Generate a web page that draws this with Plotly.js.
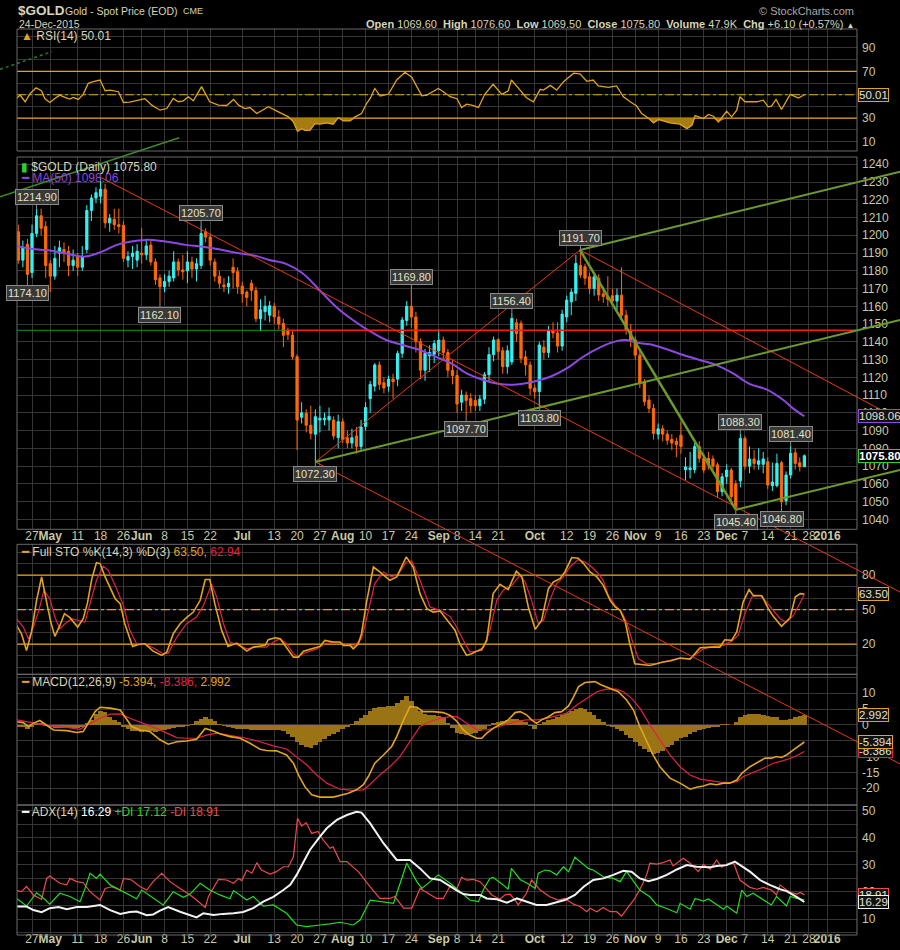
<!DOCTYPE html>
<html><head><meta charset="utf-8">
<script src="https://cdn.plot.ly/plotly-3.0.1.min.js"></script>
<style>html,body{margin:0;padding:0;background:#000;}#chart{width:900px;height:950px;}</style>
</head><body><div id="chart"></div>
<script>
// ---------------- DATA ----------------
const firstDay = '2015-04-22', calEnd = '2016-01-08';
const holidays = ['2015-05-25','2015-07-03','2015-09-07','2015-11-26','2015-12-25','2016-01-01'];
const tickDates = ['2015-04-27','2015-05-01','2015-05-11','2015-05-18','2015-05-26','2015-06-01','2015-06-08','2015-06-15','2015-06-22','2015-07-01','2015-07-13','2015-07-20','2015-07-27','2015-08-03','2015-08-10','2015-08-17','2015-08-24','2015-09-01','2015-09-08','2015-09-14','2015-09-21','2015-10-01','2015-10-12','2015-10-19','2015-10-26','2015-11-02','2015-11-09','2015-11-16','2015-11-23','2015-12-01','2015-12-07','2015-12-14','2015-12-21','2015-12-28','2016-01-04'];
const tickLabels = ['27','May','11','18','26','Jun','8','15','22','Jul','13','20','27','Aug','10','17','24','Sep','8','14','21','Oct','12','19','26','Nov','9','16','23','Dec','7','14','21','28','2016'];

const openP = [1202,1186,1195,1179,1201,1211,1205,1184,1177,1190, 1192,1191,1183,1188,1182,1192,1214,1221,1222,1226, 1207,1209,1206,1205.6,1186,1188,1186,1190,1189,1194.5, 1185,1176,1171,1174,1176,1185,1180.5,1180,1185,1181, 1183,1202,1199,1185,1177,1172,1171,1182,1179.5,1171.4, 1168,1173,1169,1153,1157,1155,1160,1154,1150.3,1146.6, 1143.8,1131.6,1097.5,1099.7,1093,1088,1096,1096,1096,1096, 1086,1095,1086,1083,1087,1081,1092.4,1108,1115,1127, 1117,1115,1119,1119,1133.5,1152,1160,1154,1140,1124, 1132,1133,1135,1141,1134,1124,1121,1106,1110,1108, 1107,1104,1107.7,1121.5,1132.8,1141.2,1135,1126,1128.7,1150.7, 1150.4,1131.5,1127,1114,1112,1137,1134,1146.3,1145,1137.6, 1154,1162.5,1167.3,1183,1182.3,1176.6,1170,1175.7,1167,1165.5, 1166,1163,1166.3,1155,1146.6,1141,1132.5,1117.5,1107.2,1102.5, 1088,1091,1088,1085,1084,1087.4,1068,1068,1068,1081, 1074.4,1074.4,1074,1070.7,1055.6,1064,1067.8,1060,1061.7,1085.6, 1070,1074,1071,1071,1072.4,1059,1059,1071.9,1050.5,1065, 1077.5,1071.9,1069.6];
const highP = [1206,1197,1198,1206,1214.9,1215,1208,1186,1194,1197, 1196,1194,1192,1190,1194,1217,1223,1227,1232.5,1229, 1212,1215,1215,1208,1191,1194,1195,1204,1198,1197, 1187,1178,1178,1180,1191,1187,1189,1191,1188,1187, 1205.7,1204,1201,1187,1180,1176,1177,1187,1182,1174, 1169,1175,1171,1164,1166,1163,1162,1158,1153,1148, 1146,1133,1106,1102,1104,1102,1104,1100,1103,1098, 1099,1097,1090,1091,1092,1096,1106,1118,1128,1129, 1120,1121,1122,1135,1154,1163,1169.8,1157,1142,1136, 1138,1141,1147,1143,1136,1130,1124,1113,1112,1111, 1110,1110,1123,1137,1143,1142,1137,1138,1156.4,1153, 1152,1135,1129,1116,1140,1141,1149,1151,1151,1158, 1166,1170,1189,1191.7,1184,1179,1178,1178,1171,1177, 1170,1170,1182,1158,1150,1143,1135,1119,1110,1105, 1094,1093,1090,1088,1086,1095,1075,1078,1083,1084, 1077,1078,1076,1072,1066,1071,1069,1062,1088.3,1087, 1081,1079,1080,1078,1075,1072,1077,1073,1067,1081.4, 1080,1075,1076.6];
const lowP = [1184,1182,1174.1,1176,1199,1200,1176,1168,1175,1182, 1185,1177,1180,1177,1180,1190,1208,1218,1218,1204, 1202,1203,1201,1185,1182,1181,1182,1184,1186,1183, 1172,1162.1,1168,1171,1174,1177,1175,1173,1176,1174, 1181,1196,1183,1174,1170,1168,1167,1170,1167,1162, 1160,1163,1151,1146,1152,1151,1150,1147,1137,1141, 1130,1079,1094,1089,1085,1072.3,1089,1093,1090,1085, 1080,1083,1080,1080,1077,1079,1090,1100,1112,1113, 1111,1112,1108,1115,1131,1149,1148,1134,1119,1118, 1123,1128,1132,1130,1120,1116,1100,1101,1097.7,1100, 1101,1101,1105,1118,1129,1130,1122,1122,1127,1140, 1128,1121,1110,1108,1103.8,1130,1131,1142,1134,1135, 1151,1155,1163,1176,1172,1167,1166,1163,1162,1160, 1160,1158,1153,1144,1137,1130,1114,1104,1100,1085, 1085,1084,1082,1079,1075,1077,1062,1063,1066,1072, 1066,1068,1068,1052,1053,1060,1050,1045.4,1058,1068, 1066,1068,1068,1066,1057,1056,1058,1046.8,1048,1063, 1068,1067,1069.5];
const closeP = [1186,1193,1178,1201,1211,1204,1183,1177,1187,1193, 1190,1183,1186,1182,1188,1214,1221,1224,1226,1207, 1209.5,1206,1205,1187,1188,1190,1191,1189,1194,1185, 1175,1171,1174,1177,1185,1180.5,1179.5,1185,1181,1184, 1201,1199,1186,1177,1173,1171,1173,1179,1171,1167, 1165,1169,1153,1158,1160,1160.3,1154,1150,1143.7,1144, 1131.6,1095.9,1100,1093,1088.4,1097.8,1097,1097,1098,1087, 1095,1085,1083,1086,1081,1092,1103,1116,1127,1116, 1114,1119,1117.5,1133.5,1152.3,1160,1154,1140,1124,1133.5, 1134,1139,1141,1134,1124,1121,1105,1110,1107,1104, 1104,1107.7,1121.5,1132.8,1141,1134.6,1126,1135,1153.2,1144.6, 1130.7,1127,1113.8,1111.9,1138.2,1134,1146.3,1145,1137.6,1155.6, 1163.5,1168,1184.1,1177.6,1175.8,1170,1176.6,1166.4,1165.5,1164, 1163,1166.3,1155,1146.6,1141,1132.5,1116.5,1106.3,1102.5,1088.4, 1091,1088,1084.5,1083,1082,1081,1069.5,1069,1081,1074.4, 1067.8,1070.7,1070,1055.6,1064,1067.8,1052.8,1047,1085.6,1070, 1074,1071.5,1073,1074,1059.3,1061,1071.5,1049.9,1065,1077.2, 1071.5,1069.7,1075.8];
const lastVolume = '47.9K';

const maX = [-0.3,3.6,7.3,10.9,14.6,18.3,21.9,27.8,31.4,36.6,40.3,43.9,47.6,52,54.9,58.6,62.2,65.9,69.5,73.2,76.8,80.5,84.1,87.8,91.4,95,98.1,101.8,105.4,109.1,112.7,116.4,120,123.6,127.3,130.9,133.1,135.3,138.2,141.9,145.5,149.1,152.8,156.4,160.1,163.7,167.4,169.5,172];
const maY = [1194,1192.1,1191.3,1189.5,1188,1190.8,1194.9,1197.4,1196.8,1194.6,1193.6,1192.1,1190.2,1188.4,1186.1,1183.9,1178.6,1169.2,1159.8,1152.3,1146.2,1141,1138.2,1135.4,1131.5,1127.5,1122.2,1118.5,1116.2,1116,1117.5,1120.3,1125,1131.6,1136.9,1140.4,1141,1139.5,1138.6,1135.8,1132.6,1129.8,1126.9,1122.2,1116.2,1113.2,1107.2,1102.5,1098.06];

const rsiX = [-0.4,0.4,1.5,2.6,3.9,5.1,5.8,6.9,8,9.1,10.2,11.3,12,13.1,14.2,15.3,16.4,17.9,19,20.1,21.9,23,24.4,26.3,27.7,29.2,31,32.5,33.9,35,36.1,37.2,38.3,40.1,41.9,43.8,45.6,47.1,48.2,49.6,50.7,52.2,53.6,54.7,56.9,59.1,60.2,61.1,62,62.7,63.8,64.9,66,67.5,68.9,70,71.1,72.6,73.7,75.1,76.2,77,78,79.2,81,82.8,84.6,86.1,87.2,88.3,89.4,90.8,91.9,93,94.5,96,97,98.1,99.2,100.7,102.1,103.9,105.8,107.2,107.9,109.8,111.2,112.7,114.2,114.9,116.4,117.8,119.3,121.5,122.9,124.4,125.8,126.9,129.1,130.9,132.4,133.9,135.3,136.4,137.9,139,140.1,142.6,144.8,146.3,147.4,148.1,149.9,151,152.1,153.2,155,156.1,157.2,157.9,159,161.6,163,164.1,164.8,165.8,167,168.9,170.7,172];
const rsiY = [46.8,49.7,44,51.1,56,53.2,46.8,43.4,46.8,49.7,47.7,46.3,47.7,46,50.3,59.7,61.2,62.6,53.4,54,52.6,43.4,43.7,45.4,46.6,41.1,36.8,38.2,46.8,44,44.8,48.3,44.8,56.9,44,41.1,40.8,46,41.1,38.2,39.1,33.9,36.8,39.7,35.4,31.1,26.8,18.7,21,19.6,19.6,25.3,24.8,25.9,24.8,30.5,27.6,27.6,31.1,33.9,42.5,46.8,55.4,48.9,50.6,62.6,69.2,64.9,56.9,49.1,49.7,52.6,55.4,52.6,48.3,46.6,39.1,42,41.1,39.1,50.6,58.9,50.3,53.4,62.6,54,47.4,44,54.6,54,58,54,61.2,68.4,67.8,61.5,62.6,57.5,56.3,57.5,48.3,44,40.3,33.9,29.9,25.9,28.8,25.9,24.8,21,23.9,32.2,29.6,33.1,31.6,26.8,35.9,31.1,36.8,48.3,44,44,45.4,39.7,40.3,46,37.4,50.3,47.1,50.01];

const stoKX = [-0.4,0.7,1.8,2.9,4,5.1,6.2,7.1,8,9.1,10.1,11.3,13,14.2,15.1,16.1,17.1,17.9,19,21.2,22.3,23.3,25,26.3,27.7,29.5,31.4,32.5,33.9,35.4,36.8,38.3,39.8,40.9,41.9,43,44.5,45.9,47.8,50,51.4,54,54.7,56.2,57.3,58.7,60.2,61.3,62.4,64.2,66,67.1,68.9,70.4,71.1,72.6,73.3,74.4,75.1,76.2,77.7,79.1,81.3,82.8,83.5,84.9,86.4,87.9,89.4,90.8,92.3,94.5,95.6,96.6,98.1,99.2,100.3,101.4,102.5,103.9,105.4,107.2,109,110.2,111.6,113.1,114.5,116,117.1,118.5,119.6,121.1,122.5,123.7,125.1,126.6,128,129.5,130.6,131.7,132.8,133.8,134.9,136.4,138.2,139.7,141.1,142.6,144.8,147,148.1,149.2,151.4,153.5,154.6,156.1,157.2,158.6,159.9,160.8,162.7,164.1,165.2,167,168.9,170,171.1,172];
const stoKY = [36.3,29.1,14.6,30.6,58.1,78.4,56.6,39.2,26.8,36.3,46.5,43,34.9,42.1,55.2,76.9,90.8,90,78.4,59.5,55.2,37.8,18.1,19.8,20.4,14,10.3,13.2,29.1,37.8,43,47.9,58.1,76.1,76.1,55.2,32,18.1,21,14,17.5,19,23.9,25.6,24.8,17.5,8.8,8.8,14,16,18.1,23.3,21.9,21.9,19,19,16,20.4,29.1,56.6,87,82.7,75.5,78.4,84.7,95.8,87,63.9,50.8,47.9,48.8,38,32,20.4,10.3,11.7,14,15.2,23.3,63.9,72,67.4,83.3,78.4,52.3,32.9,40.7,68.2,74,76.9,82.7,95.2,94.6,90,82.7,78.4,71.1,58.1,52.3,49.4,39.2,20.4,3,2.4,1.6,3,4.5,5.4,8,7.1,11.7,17,17.5,17.5,23.9,23.3,30.6,56.6,67.4,62.4,62.1,50.8,44.2,35.5,43,61,63.9,63.5];
const stoDX = [-0.4,1.1,2.2,3.3,4.4,5.6,6.9,8,9.1,10.2,11.7,13.1,14.6,15.7,17.1,18.6,19.7,21.5,23,24.4,25.9,27.7,29.5,31.7,32.8,34.7,36.8,39,40.5,42.3,43.4,44.9,46.3,48.2,50,52.2,54.3,55.8,57.3,58.7,60.2,61.3,63.1,65.3,67.1,68.9,71.1,73.3,75.1,76.2,78,79.9,81.7,83.2,84.9,86.1,87.9,90.1,92.3,94.5,95.9,97.4,98.8,100.3,101.8,103.2,104.7,106.1,108,109.8,110.9,112.3,113.8,114.9,116.3,117.8,119.3,120.7,122.5,124,125.5,126.6,128,129.1,130.6,132,133.1,134.2,135.7,137.5,139.7,141.9,144.1,147,148.4,149.9,152.1,154.3,156.1,157.5,159,160.5,162.3,163.7,165.2,166.7,168.1,169.6,172];
const stoDY = [42.1,34.9,24.8,34.9,47.9,66.8,59.5,43.6,33.4,37.8,42.1,40.7,39.2,55.2,75.5,87.7,84.1,68.2,53.7,32,20.4,19.8,16.9,11.7,12.3,26.2,37.8,43.6,53.7,72,61,37.8,21.9,19,16,17.5,17.5,21.9,24.8,20.4,11.7,9.4,13.2,16,20.4,21.9,20.4,18.1,24.8,42.1,72.6,82.7,78.4,81.2,91.4,92.3,75.5,52.3,49.4,44,34.9,23.3,13.2,14,17.5,32,58.1,66.8,71.1,79.8,74,58.1,37.8,40.7,58.1,72.6,78.4,87,93.4,91.4,87,82.7,75.5,62.4,53.7,47.9,39.2,24.8,7.4,3,3.5,5.4,7.4,7.4,11.7,16,18.1,19,22.7,27.7,46.5,61,62.4,56.6,49.4,42.1,39.2,45,62.94];

const macdX = [-0.4,1.1,2.2,3.3,4.7,6.2,7.7,10.6,12.8,14.2,15.3,16.8,17.9,20.1,22.3,23.3,24.8,26.6,28.8,31,32.8,34.7,36.8,39,40.9,42.7,44.1,46.3,48.5,50.7,52.9,54.3,56.5,58.7,60.2,61.3,62.7,64.2,66,68.9,70.4,72.2,74,75.5,76.6,78,79.9,81.7,82.8,84.3,85.7,87.2,88.6,90.8,93,94.5,96,97.4,98.8,100.3,101.4,102.5,103.9,105.8,107.2,108.7,109.8,111.2,112.3,113.4,114.5,116,117.4,118.9,120.4,121.5,122.6,124,126.2,127.6,129.5,131.3,133.1,134.6,136,137.5,138.9,140.4,142.6,144.8,147,148.4,149.9,151.4,152.8,154.3,155.7,157.2,158.3,160.1,161.6,163.4,164.8,165.9,167,168.1,169.6,172];
const macdY = [1.05,0.74,-0.5,0.5,1.4,0,-1.6,-1.8,-2.4,-2.1,0.5,4.2,5.6,5.3,4.7,2.6,-0.5,-1.6,-2.1,-4.7,-6.1,-5.3,-5.1,-4.5,-1.1,-1.9,-2.8,-3.7,-4.2,-5.8,-7.7,-8.1,-8.2,-9.5,-12.1,-15.8,-19.5,-22.1,-22.8,-22.8,-22.2,-21.6,-20.5,-18.9,-16.3,-12.1,-9.5,-6.8,-3.7,1.6,5.8,5.6,4.2,4.2,3.9,3,1.1,-1.6,-3.2,-4.2,-4.2,-2.6,-1.1,0.5,1.6,3.9,4.2,3.2,1.6,0.5,1.6,2.6,3.9,4.2,6,8.9,12.1,13.4,13.7,12.6,11.6,10.5,7.9,4.7,-0.5,-5.3,-9.5,-13.2,-16.8,-18.4,-20.3,-19.7,-19.3,-18.6,-18.9,-18.4,-18.4,-17.4,-15.3,-13.2,-11.9,-10.5,-10.5,-10,-10.3,-9.5,-7.9,-5.394];
const sigX = [-0.4,3.3,6.9,10.6,13.5,15.7,17.9,20.1,22.3,24.4,27.4,30.3,32.5,34.7,36.8,39,41.2,43.4,46.3,49.9,52.9,55.8,58.7,60.9,63.1,65.3,67.5,70.4,73.3,75.5,76.9,79.1,81.3,83.5,85.7,87.9,90.1,92.3,94.5,96,98.1,100.3,102.5,104.7,106.9,109.1,111.2,113.4,115.6,117.8,120,122.2,124.4,126.6,128.7,130.9,132.4,134.2,136,138.2,140.4,142.6,144.8,147,149.2,151.4,153.6,155.7,157.2,158.7,160.8,163,165.2,167.4,169.6,172];
const sigY = [1.6,0.7,-0.3,-0.8,-1.4,0.5,2.1,3.4,3.5,2.1,0.5,-1.1,-2.6,-4,-4.2,-4.2,-3.2,-2.6,-3.3,-4.2,-5.3,-6.6,-7.6,-10,-12.6,-15.8,-18.4,-20.3,-20.7,-20.5,-18.9,-15.8,-13.2,-10,-5.3,-0.5,1.1,2.1,2.6,2.6,0.5,-1.4,-1.6,-0.7,0,1.1,1.6,1.6,2.1,2.8,3.7,6.3,8.4,10.5,11.3,11.3,10.5,8.4,5.3,0,-4.7,-9.5,-13.2,-15.8,-17.1,-17.7,-18.1,-18.2,-17.9,-16.3,-15.1,-13.7,-12.1,-11.3,-10.2,-8.386];
const histY = [-0.5,-0.8,-1.4,-0.6,0.4,0.6,-0.3,-0.8,-1.0,-1.0, -1.0,-1.0,-1.1,-1.0,-0.6,0.6,1.5,3.5,4.5,4.2, 2.5,1.5,0.8,-0.5,-1.2,-1.8,-2.0,-2.1,-2.0,-2.0, -2.1,-2.0,-1.7,-1.4,-1.0,-0.8,-0.6,-0.3,0.3,1.2, 2.0,2.4,2.0,1.2,0.3,-0.4,-0.7,-1.0,-1.2,-1.4, -1.4,-1.5,-1.6,-1.6,-1.6,-1.6,-1.6,-1.7,-1.8,-2.8, -3.8,-5.5,-6.5,-7.0,-7.2,-6.3,-5.3,-4.6,-3.6,-3.0, -2.2,-1.4,-0.8,0.4,1.2,2.2,3.0,4.5,5.5,5.8, 5.8,5.9,6.0,7.0,8.0,9.2,7.5,5.5,4.3,3.5, 3.2,3.0,2.8,2.6,0.6,-1.0,-2.5,-3.0,-3.2,-3.0, -2.6,-2.0,-1.3,-0.4,0.6,1.0,1.3,1.5,2.0,2.0, 1.6,0.8,-0.2,-1.2,0.4,1.0,1.5,2.0,2.4,3.0, 3.8,4.5,5.0,5.3,5.0,4.0,3.0,2.0,1.0,-0.2, -0.8,-1.2,-2.0,-3.2,-4.2,-5.5,-6.8,-7.6,-8.6,-9.2, -9.0,-8.2,-7.0,-6.2,-5.0,-4.2,-3.8,-3.0,-2.2,-1.6, -1.2,-0.9,-0.6,-0.6,0.2,0.3,0.1,1.0,2.6,3.2, 3.4,3.5,3.4,3.2,2.8,2.6,2.5,1.6,1.4,2.0, 2.6,2.8,2.992];

const adxX = [-0.4,1.8,3.3,5.1,6.9,8.8,10.6,12.8,15,17.9,20.1,22.3,24.4,25.9,28.1,29.5,31,32.8,35.4,37.6,39,40.5,42.7,44.8,47.1,49.2,51.4,53.6,55.8,58,59.5,60.9,62.4,63.8,66,67.5,69.7,71.9,74,75.1,77,79.9,82.8,85.7,87.9,90.1,92.3,94.5,96,97.4,98.8,101,102.5,104.7,106.9,109.1,111.2,113.4,115.6,117.8,119.6,121.8,123.7,125.8,128,130.2,132.4,134.2,136,137.9,139.7,141.9,144.1,146.3,148.4,151.4,152.8,155,156.8,158.7,160.1,162.3,164.4,166.7,168.1,170.3,172];
const adxY = [14.6,14.6,13.3,12.5,14,14.4,13.6,14.4,14.4,15.2,13.3,11.9,12.6,12.8,11.4,11.7,13.1,14.4,12.7,11.5,10.6,12.1,11.5,11.9,12.1,12.6,14,16.4,18.2,20.7,22.6,26.3,31.2,35.5,40.4,43.5,46.6,48.4,49.6,49.3,45.3,38,31.8,31.8,28.7,25,24.4,22,20.5,19.2,18.9,18.9,17.6,17.3,16,17.6,16.4,15.2,15.2,16.2,17,18.9,21.9,24.4,25,26.3,27.8,27.5,25,24,24.8,26.3,28.3,29.9,29.3,29.1,29.6,29.9,31.2,29.1,27.5,24.4,22.6,21,20.3,18.2,16.29];
const pdiX = [-0.4,1.8,4,5.1,6.9,9.1,11.3,13.5,14.6,15.7,17.1,17.9,20.1,22.3,23.7,25.9,27,29.5,31.7,33.9,36.1,37.6,39.8,41.9,44.1,46.3,47.1,50,51.4,53.6,55.8,58.7,60.9,63.1,64.6,66,68.2,70.4,73.3,74.8,77,79.9,82.1,85,87.2,88.3,90.1,91.9,94.5,95.6,97.4,98.8,100.7,101.8,103.2,103.9,106.1,107.2,107.9,109.8,112,113.1,113.8,115.3,116.3,117.8,119.3,120.4,121.8,123.3,124.7,125.8,128,130.2,131.7,133.1,134.6,136,138.2,139.7,141.9,144.1,144.8,147,148.1,149.9,151,152.8,154.3,155,157.2,158.3,159.4,160.8,163,164.8,165.9,168.1,168.9,170.3,172];
const pdiY = [17.6,14.8,19.7,18.3,15.5,19.5,18.3,16.4,21.3,26.9,25,26.6,22.6,20.7,19.5,17.5,20.7,17.6,15.2,20.1,18,19.2,23.2,20.7,18.9,17.5,20.5,17,18.3,14.8,15.2,12.1,7.8,7.2,7.4,7.8,8.2,8.8,7.8,9.6,17,16.4,15.8,30.6,23.8,21.3,23.8,26.3,23.2,21.7,18.9,17,16.4,21,25,25.4,22.6,21,28.7,24.6,22.6,21.3,26.9,28.1,27.8,26.3,29.3,27.5,32.8,30.6,28.7,28.1,25.6,25,23.8,27.5,23.8,20.7,18.2,15.2,13.9,12.3,15.8,13.6,17.6,16.6,17.4,15.2,13.6,14.8,12.1,20.7,18.3,19.5,17.3,15.2,18.3,14.8,18.3,17.6,17.12];
const mdiX = [-0.4,0.7,1.8,3.3,5.1,6.2,6.9,9.1,10.6,11.3,12.8,14.2,15.7,17.9,19,20.4,22.3,23,24.8,26.6,28.1,29.5,31.4,33.2,35.4,37.6,39,40.9,41.6,43.8,45.6,47.1,48.2,48.9,50,51.1,52.2,53.2,55.1,56.5,58,59.1,60.2,61.1,62,63,64.2,65.6,66.7,68.2,68.9,70.4,71.9,74.4,77,79.1,81.3,82.4,84.3,86.1,87.9,90.1,91.5,93,94.5,96,97,98.1,99.6,101,102.1,103.6,105.4,106.5,107.6,108.7,109.4,111.2,112.3,114.2,116.3,118.2,119.6,121.5,122.9,124.4,125.1,126.6,128,129.5,130.9,132,133.5,134.9,136.4,137.5,138.2,139.7,141.1,142.6,143.3,145.5,147,148.8,149.9,151.4,152.8,153.9,155.4,156.5,157.9,160.1,161.6,163,164.8,165.9,166.7,168.1,169.2,170.3,171.1,172];
const mdiY = [20.5,20.1,22,18.9,17.3,25,25.9,23.2,22.6,25,23.8,23.4,20.1,17,21.3,21.9,20.7,25,24.4,22,20.7,23.8,26.9,23.8,21.3,18.9,17,14.3,18.3,24.6,24.4,23.2,25,24.2,28.1,26.9,30.8,28.1,26.6,27.5,29.3,29.3,33,47.2,44.3,45.6,41.6,42.3,39.2,36.1,36.7,31.2,31.2,27.5,21.9,17.6,17.6,18.3,14,14,21.3,19.2,17.6,17.6,22.2,21.3,25.4,24.4,24.6,23.8,21.9,18.9,17.3,18.9,19.2,17,15.2,19.5,24.4,20.7,18.2,17,17.6,15.5,14.6,12.7,14,12.7,14.3,12.7,12.7,11.1,14.6,17.6,22.2,26.3,30.6,30.3,30.8,31.8,29.6,32.4,30.6,27.5,30.2,28.3,31.8,29.1,30.6,30.8,24.4,21.7,21,21.7,20.7,18.9,22.6,20.7,19.8,19.2,19.8,18.91];

// swing-point labels (index into the candles, H = high, L = low)
const pivotIdx  = [4, 2, 40, 31, 65, 86, 98, 108, 114, 123, 158, 169, 157, 167];
const pivotSide = ['H','L','H','L','L','H','L','H','L','H','H','H','L','L'];

// hand-drawn trendlines (trading-day index, price)
const trendFromX = [17.9, 65, 65, 122.9, 122.9, 65, 157, 122.9, -4.0, -4.0];
const trendFromY = [1232.8, 1072.3, 1072.3, 1191.7, 1191.7, 1072.3, 1045.4, 1191.7, 1221.7, 1293.5];
const trendToX   = [192.93, 192.93, 122.9, 192.93, 192.93, 192.93, 192.93, 157, 35.2, 7.3];
const trendToY   = [999.0, 902.2, 1191.7, 1096.0, 1235.8, 1152.3, 1067.8, 1045.4, 1254.9, 1303.4];
const levelPrice = 1146.5, levelSplitIdx = 58.7;
const rsiLevels = [70, 30, 50], stoLevels = [80, 20, 50];

// ---------------- STYLE / LAYOUT ----------------
const FONT = 'Liberation Sans, Arial, sans-serif';
const GRID = '#353535', TICK = '#c9c9a6', FRAME = '#6a6a6a', TXT = '#d6d6b8';
const C_UP = '#35f0f0', C_DN = '#ff6a00', C_GOLD = '#e0a41e', C_RED = '#e3204a', C_MA = '#8d48e0', C_LVL = '#e8a20c';
const trendStyle = [
  {color:'#e8380c', width:1}, {color:'#e8380c', width:1}, {color:'#e8380c', width:1}, {color:'#e8380c', width:1},
  {color:'#6c9a2c', width:2}, {color:'#6c9a2c', width:2}, {color:'#6c9a2c', width:2}, {color:'#6c9a2c', width:2.5},
  {color:'#3d8a2a', width:1.5}, {color:'#2f7a2a', width:1.5, dash:'dot'}
];
const levelDash = ['solid', 'solid', 'dashdot'];

const px = x => x / 900, py = y => (935 - y) / 906;

function tradingDays(a, b, hol) {
  const out = []; const d = new Date(a + 'T00:00:00Z'); const e = new Date(b + 'T00:00:00Z');
  while (d <= e) { const w = d.getUTCDay(); const s = d.toISOString().slice(0, 10);
    if (w !== 0 && w !== 6 && !hol.includes(s)) out.push(s); d.setUTCDate(d.getUTCDate() + 1); }
  return out;
}
const days = tradingDays(firstDay, calEnd, holidays);
const tickPos = tickDates.map(d => days.indexOf(d));
const tickText = tickLabels.map(l => /^[A-Za-z]|^\d{4}$/.test(l) ? '<b>' + l + '</b>' : l);
const n = closeP.length;
const idx = closeP.map((_, i) => i);
const last = a => a[a.length - 1];

const XR = [-0.284, 183.52];
const traces = [];
// RSI
rsiLevels.forEach((v, k) => traces.push({type:'scatter', mode:'lines', x:XR, y:[v, v], xaxis:'x', yaxis:'y', line:{width:1.2, color:C_LVL, dash:levelDash[k]}}));
traces.push({type:'scatter', mode:'lines', x:rsiX, y:rsiX.map(() => 30), xaxis:'x', yaxis:'y', line:{width:0, color:'rgba(0,0,0,0)'}, hoverinfo:'skip'});
traces.push({type:'scatter', mode:'lines', x:rsiX, y:rsiY.map(v => Math.min(v, 30)), xaxis:'x', yaxis:'y', line:{width:0, color:'rgba(0,0,0,0)'}, fill:'tonexty', fillcolor:'#a47c12'});
traces.push({type:'scatter', mode:'lines', x:rsiX, y:rsiY, xaxis:'x', yaxis:'y', line:{width:1.3, color:C_GOLD}});
// price
traces.push({type:'scatter', mode:'lines', x:[XR[0], levelSplitIdx], y:[levelPrice, levelPrice], xaxis:'x', yaxis:'y2', line:{width:1, color:'#1f8f1f'}});
traces.push({type:'candlestick', x:idx, open:openP, high:highP, low:lowP, close:closeP, xaxis:'x', yaxis:'y2', whiskerwidth:0,
  increasing:{line:{color:C_UP, width:1}, fillcolor:C_UP}, decreasing:{line:{color:C_DN, width:1}, fillcolor:C_DN}});
traces.push({type:'scatter', mode:'lines', x:maX, y:maY, xaxis:'x', yaxis:'y2', line:{width:2, color:C_MA, shape:'spline'}});
traces.push({type:'scatter', mode:'lines', x:[levelSplitIdx, XR[1]], y:[levelPrice, levelPrice], xaxis:'x', yaxis:'y2', line:{width:1.5, color:'#ff1a1a'}});
// STO
stoLevels.forEach((v, k) => traces.push({type:'scatter', mode:'lines', x:XR, y:[v, v], xaxis:'x', yaxis:'y3', line:{width:1.2, color:C_LVL, dash:levelDash[k]}}));
traces.push({type:'scatter', mode:'lines', x:stoDX, y:stoDY, xaxis:'x', yaxis:'y3', line:{width:1.2, color:C_RED}});
traces.push({type:'scatter', mode:'lines', x:stoKX, y:stoKY, xaxis:'x', yaxis:'y3', line:{width:1.6, color:C_GOLD}});
// MACD
traces.push({type:'bar', x:idx, y:histY, xaxis:'x', yaxis:'y4', width:1, marker:{color:'#9a7414', line:{width:0}}});
traces.push({type:'scatter', mode:'lines', x:sigX, y:sigY, xaxis:'x', yaxis:'y4', line:{width:1.2, color:C_RED}});
traces.push({type:'scatter', mode:'lines', x:macdX, y:macdY, xaxis:'x', yaxis:'y4', line:{width:1.6, color:C_GOLD}});
// ADX
traces.push({type:'scatter', mode:'lines', x:mdiX, y:mdiY, xaxis:'x2', yaxis:'y5', line:{width:1.2, color:'#ee4a4a'}});
traces.push({type:'scatter', mode:'lines', x:pdiX, y:pdiY, xaxis:'x2', yaxis:'y5', line:{width:1.2, color:'#22dd22'}});
traces.push({type:'scatter', mode:'lines', x:adxX, y:adxY, xaxis:'x2', yaxis:'y5', line:{width:2, color:'#f2f2f2'}});
// trendlines (full-canvas overlay axis with the price scale)
trendFromX.forEach((fx, k) => {
  traces.push({type:'scatter', mode:'lines', x:[fx, trendToX[k]], y:[trendFromY[k], trendToY[k]], xaxis:'x3', yaxis:'y6', line:trendStyle[k]});
});

const xBase = {domain:[px(17), px(857)], range:XR, tickmode:'array', tickvals:tickPos, ticktext:tickText,
  showgrid:true, gridcolor:GRID, gridwidth:1, zeroline:false, showline:false, ticks:'', tickangle:0,
  tickfont:{size:12, color:TICK, family:FONT}, fixedrange:true, rangeslider:{visible:false}};
function yAx(dom, rng, vals, textFn, anchor) {
  return {domain:dom, range:rng, side:'right', anchor:anchor || 'x', tickmode:'array', tickvals:vals,
    ticktext:vals.map(textFn), showgrid:true, gridcolor:GRID, zeroline:false, showline:false, ticks:'',
    tickfont:{size:12, color:TICK, family:FONT}, fixedrange:true, ticklabelstandoff:4};
}
const seq = (a, b, s) => { const r = []; for (let v = a; v <= b + 1e-9; v += s) r.push(Math.round(v * 100) / 100); return r; };

const dRSI = [py(151), 1], dPrice = [py(529.3), py(157)], dSTO = [py(674.3), py(544.3)], dMACD = [py(805), py(674.3)], dADX = [0, py(805)];

const layout = {
  width:900, height:950, margin:{l:0, r:0, t:29, b:15}, paper_bgcolor:'#000', plot_bgcolor:'rgba(0,0,0,0)',
  showlegend:false, hovermode:false, font:{family:FONT, color:TXT}, bargap:0,
  xaxis:Object.assign({}, xBase, {anchor:'y2', ticklabelstandoff:-2}),
  xaxis2:Object.assign({}, xBase, {anchor:'y5', matches:'x', ticklabelstandoff:-5}),
  xaxis3:{domain:[0, 1], range:[-4.004, 192.93], visible:false, anchor:'y6', fixedrange:true},
  yaxis:yAx(dRSI, [1.9, 106.2], seq(0, 100, 10), v => (v % 20 === 10 ? String(v) : '')),
  yaxis2:yAx(dPrice, [1034.4, 1244.1], seq(1040, 1240, 10), v => String(v)),
  yaxis3:yAx(dSTO, [-6.1, 106.7], seq(0, 100, 10), v => ([20, 50, 80].includes(v) ? String(v) : '')),
  yaxis4:yAx(dMACD, [-25.3, 16], seq(-25, 15, 5), v => (v >= -20 && v <= 10 ? String(v) : '')),
  yaxis5:yAx(dADX, [4.1, 52.1], seq(5, 50, 5), v => (v % 10 === 0 ? String(v) : ''), 'x2'),
  yaxis6:{domain:[0, 1], range:[805.8, 1316.2], visible:false, anchor:'x3', fixedrange:true},
  shapes:[], annotations:[]
};

// panel frames
[dRSI, dPrice, dSTO, dMACD, dADX].forEach(d => layout.shapes.push({type:'rect', xref:'paper', yref:'paper',
  x0:px(17), x1:px(857), y0:d[0], y1:d[1], line:{color:FRAME, width:1}, layer:'above'}));

const A = layout.annotations;
const txt = (x, y, text, size, opts) => A.push(Object.assign({xref:'paper', yref:'paper', x:px(x), y:py(y), text:text,
  showarrow:false, xanchor:'left', yanchor:'middle', font:{size:size, color:TXT, family:FONT}}, opts || {}));
// header
const O = last(openP), Hh = last(highP), L = last(lowP), Cl = last(closeP), prev = closeP[n - 2];
const chg = Cl - prev, pct = chg / prev * 100;
txt(16, 11, '<b>$GOLD</b>', 13.5);
txt(63, 11, 'Gold - Spot Price (EOD)', 10.5);
txt(181, 11.5, 'CME', 9);
txt(17, 23.5, '24-Dec-2015', 10.5);
txt(856, 23.5, '<b>Open</b> ' + O.toFixed(2) + '  <b>High</b> ' + Hh.toFixed(2) + '  <b>Low</b> ' + L.toFixed(2) +
  '  <b>Close</b> ' + Cl.toFixed(2) + '  <b>Volume</b> ' + lastVolume + '  <b>Chg</b> ' + (chg >= 0 ? '+' : '') + chg.toFixed(2) +
  ' (' + (pct >= 0 ? '+' : '') + pct.toFixed(2) + '%) <span style="font-size:8px">▲</span>', 11, {xanchor:'right'});
txt(856, 10.5, '© StockCharts.com', 11, {xanchor:'right', font:{size:11, color:'#a8a8a8', family:FONT}});
// panel legends
txt(19, 36, '<span style="color:' + C_GOLD + '">▲</span> RSI(14) ' + last(rsiY).toFixed(2), 12);
txt(19, 166.5, '<span style="color:#2fcf2f">▮</span> $GOLD (Daily) ' + Cl.toFixed(2), 12);
txt(19, 177.5, '<span style="color:' + C_MA + '">━ MA(50) ' + last(maY).toFixed(2) + '</span>', 12);
txt(19, 551.7, '<span style="color:' + C_GOLD + '">━</span> Full STO %K(14,3) %D(3) <span style="color:' + C_GOLD + '">' + last(stoKY).toFixed(2) +
  ',</span> <span style="color:' + C_RED + '">' + last(stoDY).toFixed(2) + '</span>', 12);
txt(19, 681.7, '<span style="color:' + C_GOLD + '">━</span> MACD(12,26,9) <span style="color:' + C_GOLD + '">' + last(macdY).toFixed(3) +
  ',</span> <span style="color:' + C_RED + '">' + last(sigY).toFixed(3) + ',</span> <span style="color:' + C_GOLD + '">' + last(histY).toFixed(3) + '</span>', 12);
txt(19, 811.7, '<span style="color:#fff">━</span> ADX(14) <span style="color:#fff">' + last(adxY).toFixed(2) + '</span> <span style="color:#22dd22">+DI ' +
  last(pdiY).toFixed(2) + '</span> <span style="color:#ee4a4a">-DI ' + last(mdiY).toFixed(2) + '</span>', 12);
// pivot labels
pivotIdx.forEach((i, k) => {
  const hi = pivotSide[k] === 'H'; const v = hi ? highP[i] : lowP[i];
  A.push({xref:'x', yref:'y2', x:i, y:v, text:v.toFixed(2), showarrow:true, arrowhead:0, arrowwidth:1, arrowcolor:'#8a8a8a',
    ax:0, ay:hi ? -12 : 12, standoff:0, bgcolor:'#383838', bordercolor:'#8a8a8a', borderwidth:1, borderpad:1,
    font:{size:11, color:'#e2e2c6', family:FONT}});
});
// right-hand value tags
const tag = (yref, v, text, border, opts) => A.push(Object.assign({xref:'paper', yref:yref, x:px(858), y:v, text:text, showarrow:false,
  xanchor:'left', yanchor:'middle', bgcolor:'#111', bordercolor:border, borderwidth:1, borderpad:0,
  font:{size:11.5, color:'#e0e0d0', family:FONT}}, opts || {}));
tag('y', last(rsiY), last(rsiY).toFixed(2), C_GOLD);
tag('y2', last(maY), last(maY).toFixed(2), C_MA);
tag('y2', Cl, '<b>' + Cl.toFixed(2) + '</b>', '#33cc33', {bgcolor:'#000', font:{size:11.5, color:'#fff', family:FONT}});
tag('y3', last(stoKY), last(stoKY).toFixed(2), C_GOLD);
tag('y4', last(histY), last(histY).toFixed(3), C_GOLD);
tag('y4', last(sigY), last(sigY).toFixed(3), C_RED);
tag('y4', last(macdY), last(macdY).toFixed(3), C_GOLD);
tag('y5', last(mdiY), last(mdiY).toFixed(2), '#ee4a4a');
tag('y5', last(adxY), last(adxY).toFixed(2), '#f0f0f0');

Plotly.newPlot('chart', traces, layout, {staticPlot:true, displayModeBar:false});
</script></body></html>
